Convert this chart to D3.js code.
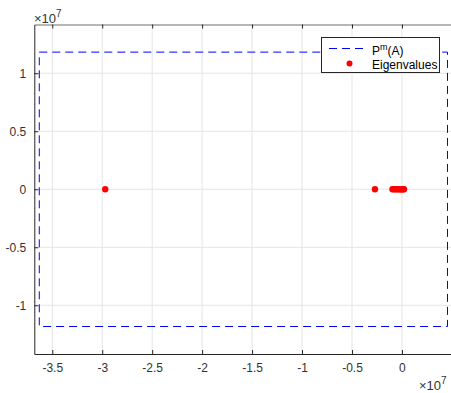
<!DOCTYPE html>
<html><head><meta charset="utf-8">
<script src="https://cdn.jsdelivr.net/npm/d3@7"></script>
<style>body{margin:0;background:#fff}svg{display:block}text{font-family:"Liberation Sans",Arial,sans-serif}</style>
</head><body><svg id="c" width="451" height="393"></svg>
<script>
// data (units of 1e7)
const xTicks = [-3.5,-3,-2.5,-2,-1.5,-1,-0.5,0];
const yTicks = [-1,-0.5,0,0.5,1];
const xTickLabels = ["-3.5","-3","-2.5","-2","-1.5","-1","-0.5","0"];
const yTickLabels = ["-1","-0.5","0","0.5","1"];
const rectX = [-3.63, 0.456, 0.456, -3.63, -3.63];
const rectY = [1.182, 1.182, -1.183, -1.183, 1.182];
const eigRe = [-2.97, -0.27, -0.095, -0.08, -0.065, -0.05, -0.035, -0.02, -0.01, 0.0, 0.01, 0.02];
const eigIm = [0, 0, 0, 0, 0, 0, 0, 0, 0, 0, 0, 0];
const legendLabels = ["P", "Eigenvalues"];

const svg = d3.select("#c");
const L = 34.3, T = 24.5, B = 354, R = 451.9;
const x = d3.scaleLinear().domain([-3.68, 0.5]).range([L, R]);
const y = d3.scaleLinear().domain([-1.42, 1.42]).range([B, T]);
const axisCol = "#262626";
const FS = "12px";

// grid
const g = svg.append("g");
g.selectAll(".gx").data(xTicks).enter().append("line")
  .attr("x1", d=>x(d)).attr("x2", d=>x(d)).attr("y1", T).attr("y2", B)
  .attr("stroke", "#e5e5e5").attr("stroke-width", 1);
g.selectAll(".gy").data(yTicks).enter().append("line")
  .attr("x1", L).attr("x2", R).attr("y1", d=>y(d)).attr("y2", d=>y(d))
  .attr("stroke", "#e5e5e5").attr("stroke-width", 1);

// axes
const xa = svg.append("g").attr("transform", `translate(0,${B})`)
  .call(d3.axisBottom(x).tickValues(xTicks).tickSizeInner(-4).tickSizeOuter(0).tickPadding(9)
        .tickFormat((d,i)=>xTickLabels[i]));
const xt = svg.append("g").attr("transform", `translate(0,${T})`)
  .call(d3.axisTop(x).tickValues(xTicks).tickSizeInner(-4).tickSizeOuter(0).tickFormat(""));
const ya = svg.append("g").attr("transform", `translate(${L},0)`)
  .call(d3.axisLeft(y).tickValues(yTicks).tickSizeInner(-4).tickSizeOuter(0).tickPadding(8)
        .tickFormat((d,i)=>yTickLabels[i]));
[xa, xt, ya].forEach(a => {
  a.select(".domain").attr("stroke", axisCol).attr("stroke-width", 1);
  a.selectAll(".tick line").attr("stroke", axisCol);
  a.selectAll("text").attr("fill", "#333").style("font-size", FS).style("font-family", '"Liberation Sans",Arial,sans-serif');
});
xt.select(".domain").attr("stroke", "#6e6e6e");

// dashed rectangle
const line = d3.line().x(d=>x(d[0])).y(d=>y(d[1]));
svg.append("path").datum(rectX.map((v,i)=>[v, rectY[i]]))
  .attr("d", line).attr("fill", "none").attr("stroke", "#0000ff").attr("stroke-width", 1)
  .attr("stroke-dasharray", "8,5");

// eigenvalues
svg.selectAll(".eig").data(eigRe).enter().append("circle")
  .attr("cx", d=>x(d)).attr("cy", (d,i)=>y(eigIm[i])).attr("r", 3.2).attr("fill", "#ff0000");

// exponent labels
function expLabel(xp, yp) {
  const t = svg.append("text").attr("x", xp).attr("y", yp).attr("fill", "#333").style("font-size", "13px");
  t.append("tspan").text("\u00d710");
  t.append("tspan").attr("dy", -6).style("font-size", "10px").text("7");
}
expLabel(34, 23);
expLabel(419, 390);

// legend
const lg = svg.append("g");
lg.append("rect").attr("x", 321.5).attr("y", 37.5).attr("width", 118).attr("height", 35)
  .attr("fill", "#fff").attr("stroke", axisCol).attr("stroke-width", 1);
lg.append("line").attr("x1", 329).attr("x2", 368).attr("y1", 48.5).attr("y2", 48.5)
  .attr("stroke", "#0000ff").attr("stroke-dasharray", "8,5");
lg.append("circle").attr("cx", 349.5).attr("cy", 63.5).attr("r", 3).attr("fill", "#ff0000");
const t1 = lg.append("text").attr("x", 372).attr("y", 55).attr("fill", "#000").style("font-size", FS);
t1.append("tspan").text(legendLabels[0]);
t1.append("tspan").attr("dy", -5).style("font-size", "9px").text("m");
t1.append("tspan").attr("dy", 5).text("(A)");
lg.append("text").attr("x", 372).attr("y", 68.5).attr("fill", "#000").style("font-size", FS).text(legendLabels[1]);
</script></body></html>
